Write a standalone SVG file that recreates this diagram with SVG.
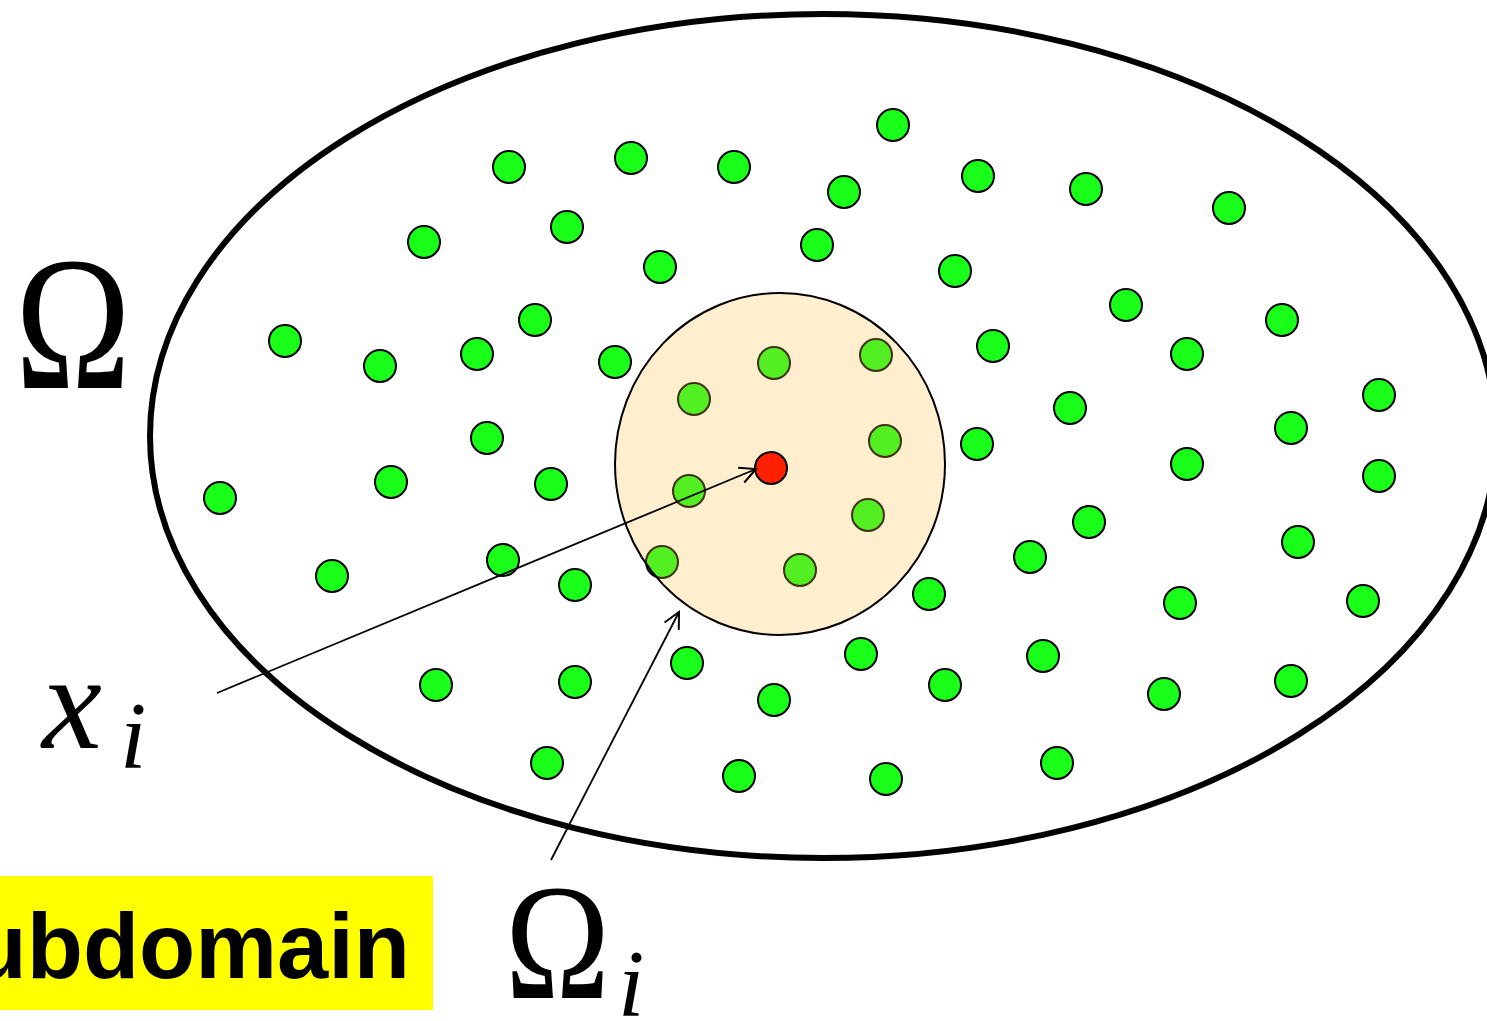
<svg xmlns="http://www.w3.org/2000/svg" width="1487" height="1021" viewBox="0 0 1487 1021">
<style>
.dot{fill:#1aff1a;stroke:#000;stroke-width:2}
.lbl{font-family:"Liberation Serif","DejaVu Serif",serif;fill:#000}
.conn{fill:none;stroke:#000;stroke-width:1.8}
</style>
<defs>
<marker id="arr" viewBox="0 0 20 20" refX="18" refY="10" markerWidth="20" markerHeight="20" markerUnits="userSpaceOnUse" orient="auto">
<path d="M2,2 L18,10 L2,18" fill="none" stroke="#000" stroke-width="2"/>
</marker>
</defs>
<rect width="1487" height="1021" fill="#fff"/>
<g id="domain">
<ellipse cx="823" cy="436" rx="673" ry="422" fill="none" stroke="#000" stroke-width="6"/>
</g>
<g id="nodes">
<circle class="dot" cx="893" cy="125" r="16"/>
<circle class="dot" cx="509" cy="167" r="16"/>
<circle class="dot" cx="631" cy="158" r="16"/>
<circle class="dot" cx="734" cy="167" r="16"/>
<circle class="dot" cx="844" cy="192" r="16"/>
<circle class="dot" cx="978" cy="176" r="16"/>
<circle class="dot" cx="1086" cy="189" r="16"/>
<circle class="dot" cx="1229" cy="208" r="16"/>
<circle class="dot" cx="424" cy="242" r="16"/>
<circle class="dot" cx="567" cy="227" r="16"/>
<circle class="dot" cx="660" cy="267" r="16"/>
<circle class="dot" cx="817" cy="245" r="16"/>
<circle class="dot" cx="955" cy="271" r="16"/>
<circle class="dot" cx="1126" cy="305" r="16"/>
<circle class="dot" cx="1282" cy="320" r="16"/>
<circle class="dot" cx="285" cy="341" r="16"/>
<circle class="dot" cx="380" cy="366" r="16"/>
<circle class="dot" cx="477" cy="354" r="16"/>
<circle class="dot" cx="535" cy="320" r="16"/>
<circle class="dot" cx="615" cy="362" r="16"/>
<circle class="dot" cx="774" cy="363" r="16"/>
<circle class="dot" cx="876" cy="355" r="16"/>
<circle class="dot" cx="993" cy="346" r="16"/>
<circle class="dot" cx="1187" cy="354" r="16"/>
<circle class="dot" cx="1379" cy="395" r="16"/>
<circle class="dot" cx="694" cy="399" r="16"/>
<circle class="dot" cx="885" cy="441" r="16"/>
<circle class="dot" cx="487" cy="438" r="16"/>
<circle class="dot" cx="977" cy="444" r="16"/>
<circle class="dot" cx="1070" cy="408" r="16"/>
<circle class="dot" cx="1291" cy="428" r="16"/>
<circle class="dot" cx="1187" cy="464" r="16"/>
<circle class="dot" cx="1379" cy="476" r="16"/>
<circle class="dot" cx="220" cy="498" r="16"/>
<circle class="dot" cx="391" cy="482" r="16"/>
<circle class="dot" cx="551" cy="484" r="16"/>
<circle class="dot" cx="689" cy="491" r="16"/>
<circle class="dot" cx="868" cy="515" r="16"/>
<circle class="dot" cx="1089" cy="522" r="16"/>
<circle class="dot" cx="1298" cy="542" r="16"/>
<circle class="dot" cx="332" cy="576" r="16"/>
<circle class="dot" cx="503" cy="560" r="16"/>
<circle class="dot" cx="575" cy="585" r="16"/>
<circle class="dot" cx="662" cy="562" r="16"/>
<circle class="dot" cx="800" cy="570" r="16"/>
<circle class="dot" cx="1030" cy="557" r="16"/>
<circle class="dot" cx="929" cy="594" r="16"/>
<circle class="dot" cx="1180" cy="603" r="16"/>
<circle class="dot" cx="1363" cy="601" r="16"/>
<circle class="dot" cx="436" cy="685" r="16"/>
<circle class="dot" cx="575" cy="682" r="16"/>
<circle class="dot" cx="687" cy="663" r="16"/>
<circle class="dot" cx="774" cy="700" r="16"/>
<circle class="dot" cx="861" cy="654" r="16"/>
<circle class="dot" cx="945" cy="685" r="16"/>
<circle class="dot" cx="1043" cy="656" r="16"/>
<circle class="dot" cx="1164" cy="694" r="16"/>
<circle class="dot" cx="1291" cy="681" r="16"/>
<circle class="dot" cx="547" cy="763" r="16"/>
<circle class="dot" cx="739" cy="776" r="16"/>
<circle class="dot" cx="886" cy="779" r="16"/>
<circle class="dot" cx="1057" cy="763" r="16"/>
</g>
<g id="subdomain">
<ellipse cx="780" cy="464" rx="165" ry="171" fill="#ffc040" fill-opacity="0.25" stroke="#000" stroke-width="2"/>
</g>
<g id="center-node">
<circle cx="771" cy="468" r="16" fill="#ff2000" stroke="#000" stroke-width="2"/>
</g>
<g id="connectors">
<line class="conn" x1="217" y1="693" x2="756" y2="469" marker-end="url(#arr)"/>
<line class="conn" x1="551" y1="860" x2="679" y2="612" marker-end="url(#arr)"/>
</g>
<g id="label-omega">
<text class="lbl" x="15" y="388" font-size="190" textLength="116" lengthAdjust="spacingAndGlyphs">Ω</text>
</g>
<g id="label-xi">
<text class="lbl" x="42" y="748" font-size="135" font-style="italic">x</text>
<text class="lbl" x="120" y="768" font-size="95" font-style="italic">i</text>
</g>
<g id="label-subdomain">
<rect x="0" y="876" width="433" height="134" fill="#ffff00"/>
<text x="410" y="978" font-size="92" font-weight="bold" font-family="'Liberation Sans',Arial,sans-serif" text-anchor="end">ubdomain</text>
</g>
<g id="label-omega-i">
<text class="lbl" x="505" y="998" font-size="165" textLength="105" lengthAdjust="spacingAndGlyphs">Ω</text>
<text class="lbl" x="618" y="1016" font-size="95" font-style="italic">i</text>
</g>
</svg>
